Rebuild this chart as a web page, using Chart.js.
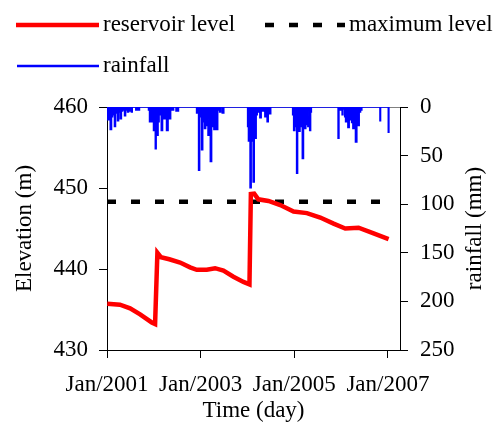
<!DOCTYPE html>
<html>
<head>
<meta charset="utf-8">
<script src="https://cdn.jsdelivr.net/npm/chart.js@4.4.0/dist/chart.umd.min.js"></script>
<style>
  html, body { margin: 0; padding: 0; background: #ffffff; }
  #wrap { width: 498px; height: 430px; }
</style>
</head>
<body>
<div id="wrap"><canvas id="c" width="498" height="430"></canvas></div>
<script>
// Time axis is in days counted from 1 Jan 2001
const tickDays = [0, 730, 1461, 2191];
const tickLabels = ['Jan/2001', 'Jan/2003', 'Jan/2005', 'Jan/2007'];

// Reservoir water level (m)
const levelDays = [2, 101, 180, 258, 349, 375, 393, 420, 486, 570, 648, 700, 778, 843, 908, 986, 1064, 1111,
                   1122, 1148, 1180, 1259, 1351, 1455, 1559, 1663, 1767, 1858, 1962, 2079, 2196];
const levelElev = [435.7, 435.6, 435.15, 434.4, 433.4, 433.2, 442.0, 441.45, 441.2, 440.8, 440.2, 439.9, 439.9, 440.1, 439.8, 439.05, 438.4, 438.1,
                   449.25, 449.3, 448.6, 448.4, 447.9, 447.1, 446.9, 446.35, 445.6, 445.0, 445.1, 444.4, 443.7];

// Maximum operating level (m)
const maxLevelDays = [0, 2191];
const maxLevelElev = [448.3, 448.3];

// Rainfall (mm)
const rainDays = [
  0, 12, 20, 31, 39, 47, 55, 62, 70, 78, 86, 94, 100, 107, 117, 125, 133, 141, 148, 156, 164, 172, 180, 188, 193, 200, 250, 256,
  320, 328, 336, 344, 351, 359, 367, 375, 379, 387, 394, 402, 410, 418, 429, 437, 449, 457, 472, 480, 492, 500, 508, 515, 523, 554, 560,
  695, 703, 711, 718, 726, 734, 742, 750, 757, 765, 773, 778, 785, 791, 800, 812, 819, 828, 840, 851, 859, 867, 875, 882, 890, 908, 913,
  1093, 1101, 1106, 1112, 1120, 1128, 1136, 1144, 1152, 1159, 1167, 1175, 1187, 1198, 1206, 1218, 1226, 1237, 1245, 1253, 1261, 1273, 1280,
  1444, 1452, 1460, 1468, 1476, 1482, 1490, 1499, 1511, 1519, 1528, 1536, 1546, 1554, 1561, 1572, 1577, 1585, 1590, 1597,
  1799, 1806, 1811, 1831, 1837, 1842, 1850, 1858, 1864, 1874, 1884, 1893, 1903, 1913, 1923, 1932, 1944, 1952, 1962, 1971, 1983, 1991,
  2127, 2131, 2135, 2192, 2196, 2200
];
const rainMm = [
  5, 13, 6, 23, 10, 8, 4, 20, 6, 3, 14, 5, 3, 12, 4, 3, 2, 9, 3, 2, 5, 2, 4, 0, 5, 0, 3, 0,
  0, 3, 15, 8, 15, 10, 24, 18, 43, 20, 29, 15, 8, 5, 24, 6, 12, 5, 24, 4, 12, 3, 3, 3, 0, 4, 0,
  0, 6, 5, 65, 10, 8, 44, 15, 10, 22, 12, 19, 12, 29, 15, 56, 20, 15, 23, 20, 23, 3, 2, 5, 0, 6, 0,
  0, 20, 35, 30, 83, 35, 30, 77, 30, 32, 8, 5, 4, 11, 3, 4, 3, 10, 6, 15, 5, 7, 0,
  0, 8, 24, 20, 15, 68, 20, 25, 18, 20, 53, 22, 22, 18, 10, 20, 4, 24, 5, 0,
  0, 32, 0, 3, 8, 2, 0, 10, 15, 12, 21, 10, 13, 16, 22, 18, 36, 16, 19, 5, 3, 0,
  0, 14, 0, 0, 26, 0
];

const toPoints = (xs, ys) => xs.map((x, i) => ({ x: x, y: ys[i] }));

const SERIF = '"Liberation Serif", "Times New Roman", serif';
Chart.defaults.font.family = SERIF;
Chart.defaults.font.size = 23;
Chart.defaults.color = '#000000';

// Legend, right-hand axis title and plot frame drawn straight on the canvas
const decorations = {
  id: 'decorations',
  beforeDatasetsDraw(chart) {
    const { ctx, chartArea } = chart;
    ctx.save();
    ctx.strokeStyle = '#808080';
    ctx.lineWidth = 1;
    ctx.beginPath();
    ctx.moveTo(chartArea.left, chartArea.top + 0.5);
    ctx.lineTo(chartArea.right, chartArea.top + 0.5);
    ctx.stroke();
    ctx.restore();
  },
  afterDraw(chart) {
    const { ctx, chartArea } = chart;
    ctx.save();
    ctx.font = '23px ' + SERIF;
    ctx.fillStyle = '#000000';

    // right axis title, reading bottom to top
    ctx.save();
    ctx.translate(475, (chartArea.top + chartArea.bottom) / 2);
    ctx.rotate(-Math.PI / 2);
    ctx.textAlign = 'center';
    ctx.textBaseline = 'middle';
    ctx.fillText('rainfall (mm)', 0, 0);
    ctx.restore();

    // legend entries
    const ds = chart.data.datasets;
    const slots = [
      { i: 0, x: 16, y: 25, w: 83 },
      { i: 1, x: 265, y: 25, w: 80 },
      { i: 2, x: 17, y: 66, w: 82 }
    ];
    slots.forEach(s => {
      const d = ds[s.i];
      ctx.save();
      ctx.strokeStyle = d.borderColor;
      ctx.lineWidth = s.i === 2 ? 2.5 : 4.5;
      ctx.setLineDash(d.borderDash || []);
      ctx.beginPath();
      ctx.moveTo(s.x, s.y);
      ctx.lineTo(s.x + s.w, s.y);
      ctx.stroke();
      ctx.restore();
      ctx.textAlign = 'left';
      ctx.textBaseline = 'alphabetic';
      ctx.fillText(d.label, s.x + s.w + 4, s.y + 6);
    });
    ctx.restore();
  }
};

new Chart(document.getElementById('c'), {
  type: 'line',
  data: {
    datasets: [
      {
        label: 'reservoir level',
        data: toPoints(levelDays, levelElev),
        yAxisID: 'y',
        borderColor: '#ff0000',
        borderWidth: 4.5,
        pointRadius: 0,
        tension: 0,
        order: 1
      },
      {
        label: 'maximum level',
        data: toPoints(maxLevelDays, maxLevelElev),
        yAxisID: 'y',
        borderColor: '#000000',
        borderWidth: 4.5,
        borderDash: [9, 15],
        borderCapStyle: 'butt',
        pointRadius: 0,
        order: 2
      },
      {
        label: 'rainfall',
        data: toPoints(rainDays, rainMm),
        yAxisID: 'y2',
        borderColor: '#0000ff',
        backgroundColor: '#0000ff',
        borderWidth: 1.6,
        stepped: 'middle',
        fill: 'origin',
        pointRadius: 0,
        order: 3
      }
    ]
  },
  options: {
    responsive: false,
    animation: false,
    devicePixelRatio: 1,
    layout: { padding: { top: 107, left: 0, right: 0, bottom: 0 } },
    plugins: { legend: { display: false }, tooltip: { enabled: false } },
    scales: {
      x: {
        type: 'linear',
        min: 0,
        max: 2285,
        afterBuildTicks: s => { s.ticks = tickDays.map(v => ({ value: v })); },
        afterFit: s => { s.height = 80; },
        ticks: {
          autoSkip: false,
          maxRotation: 0,
          padding: 13,
          callback: v => tickLabels[tickDays.indexOf(v)]
        },
        grid: { drawOnChartArea: false, drawTicks: true, tickLength: 8, color: '#000000' },
        border: { display: true, color: '#000000', width: 1 },
        title: { display: true, text: 'Time (day)', padding: { top: 0, bottom: 5 } }
      },
      y: {
        position: 'left',
        min: 430,
        max: 460,
        afterFit: s => { s.width = 107; },
        ticks: { stepSize: 10, padding: 11 },
        grid: { drawOnChartArea: false, drawTicks: true, tickLength: 8, color: '#000000' },
        border: { display: true, color: '#000000', width: 1 },
        title: { display: true, text: 'Elevation (m)', padding: { top: 11, bottom: 0 } }
      },
      y2: {
        position: 'right',
        reverse: true,
        min: 0,
        max: 250,
        afterFit: s => { s.width = 98; },
        ticks: { stepSize: 50, padding: 12 },
        grid: { drawOnChartArea: false, drawTicks: true, tickLength: 8, color: '#000000' },
        border: { display: true, color: '#000000', width: 1 },
        title: { display: false }
      }
    }
  },
  plugins: [decorations]
});
</script>
</body>
</html>
